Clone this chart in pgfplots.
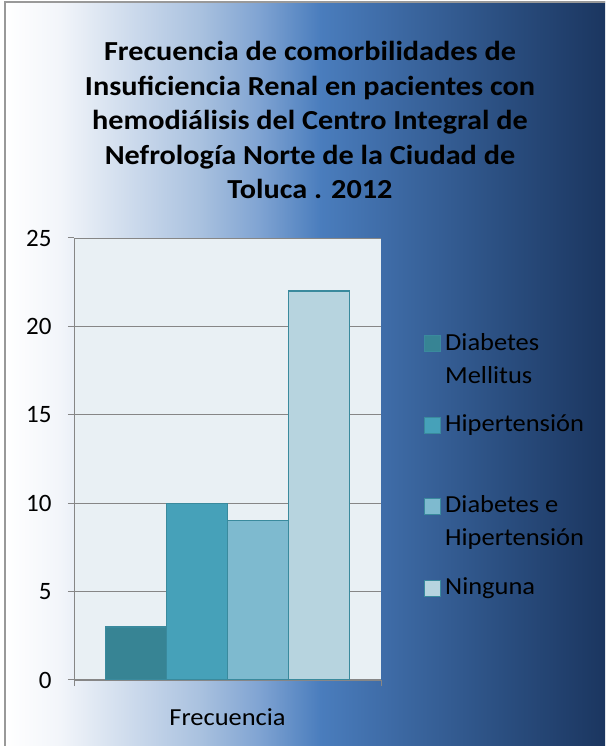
\documentclass[border=0pt]{standalone}
\usepackage{pgfplots}
\pgfplotsset{compat=1.18}
\usepackage{fontspec}
\setmainfont{Carlito}
\newfontfamily\widefont{Carlito}[FakeStretch=1.08]
\newfontfamily\titlefont{Carlito}[FakeStretch=1.1]
\definecolor{plotbg}{HTML}{E9F0F4}
\definecolor{cA}{HTML}{378494}
\definecolor{cB}{HTML}{46A1B9}
\definecolor{cC}{HTML}{7EBACF}
\definecolor{cD}{HTML}{B7D4DF}
\definecolor{bord}{HTML}{3A8A9D}
\definecolor{gridc}{HTML}{868686}
\definecolor{g0}{HTML}{FFFFFF}
\definecolor{g1}{HTML}{F2F5FA}
\definecolor{g2}{HTML}{DDE6F2}
\definecolor{g3}{HTML}{A9C1DF}
\definecolor{g4}{HTML}{7FA3D2}
\definecolor{g5}{HTML}{4A7DBD}
\definecolor{g6}{HTML}{3C68A2}
\definecolor{g7}{HTML}{2B4F81}
\definecolor{g8}{HTML}{1B3660}
\begin{document}
\begin{tikzpicture}[x=1pt,y=1pt]
\useasboundingbox (0,0) rectangle (605,746);
\shade[left color=g0, right color=g1] (5,0) rectangle (60.5,744);
\shade[left color=g1, right color=g2] (60,0) rectangle (100.5,744);
\shade[left color=g2, right color=g3] (100,0) rectangle (200.5,744);
\shade[left color=g3, right color=g4] (200,0) rectangle (260.5,744);
\shade[left color=g4, right color=g5] (260,0) rectangle (320.5,744);
\shade[left color=g5, right color=g6] (320,0) rectangle (400.5,744);
\shade[left color=g6, right color=g7] (400,0) rectangle (500.5,744);
\shade[left color=g7, right color=g8] (500,0) rectangle (605,744);
\draw[gray!80, line width=1.5pt] (5,0) -- (5,744) -- (605,744);
\node[font=\titlefont\bfseries\fontsize{27.5}{34.5}\selectfont, align=center] at (310,626)
 {Frecuencia de comorbilidades de\\Insuficiencia Renal en pacientes con\\hemodiálisis del Centro Integral de\\Nefrología Norte de la Ciudad de\\Toluca . 2012};
\begin{axis}[
 at={(74pt,66pt)}, anchor=south west,
 scale only axis, width=307pt, height=442pt,
 xmin=-1, xmax=1, ymin=0, ymax=25,
 ytick={0,5,...,25},
 xtick={-1,1}, xticklabels={},
 axis x line*=bottom, axis y line*=left,
 ymajorgrids, grid style={gridc, line width=0.8pt},
 axis line style={gridc, line width=1pt},
 tick style={gridc, line width=1pt},
 tick align=outside, major tick length=6pt,
 axis background/.style={fill=plotbg},
 /pgf/number format/assume math mode=true,
 ticklabel style={font=\fontsize{25}{30}\selectfont},
 yticklabel style={xshift=-13pt},
 xlabel={Frecuencia},
 xlabel style={font=\widefont\fontsize{24.5}{33}\selectfont, at={(axis description cs:0.5,0)}, anchor=center, yshift=-37pt},
 ybar=0pt, bar width=61pt,
 legend image code/.code={\draw[#1, line width=1pt] (0pt,7pt) rectangle (16pt,23pt);},
 legend style={at={(1.13,0.79)}, anchor=north west, draw=none, fill=none,
   font=\widefont\fontsize{24.5}{33}\selectfont, row sep=30pt,
   nodes={align=left, inner sep=0pt, outer sep=0pt}},
 legend cell align=left,
]
\addplot[fill=cA, draw=bord, line width=1.2pt] coordinates {(0,3)};
\addplot[fill=cB, draw=bord, line width=1.2pt] coordinates {(0,10)};
\addplot[fill=cC, draw=bord, line width=1.2pt] coordinates {(0,9)};
\addplot[fill=cD, draw=bord, line width=1.2pt] coordinates {(0,22)};
\legend{{\,Diabetes\\\,Mellitus}, {\,Hipertensión\\\strut}, {\,Diabetes e\\\,Hipertensión}, {\,Ninguna\\\strut}}
\end{axis}
\end{tikzpicture}
\end{document}
